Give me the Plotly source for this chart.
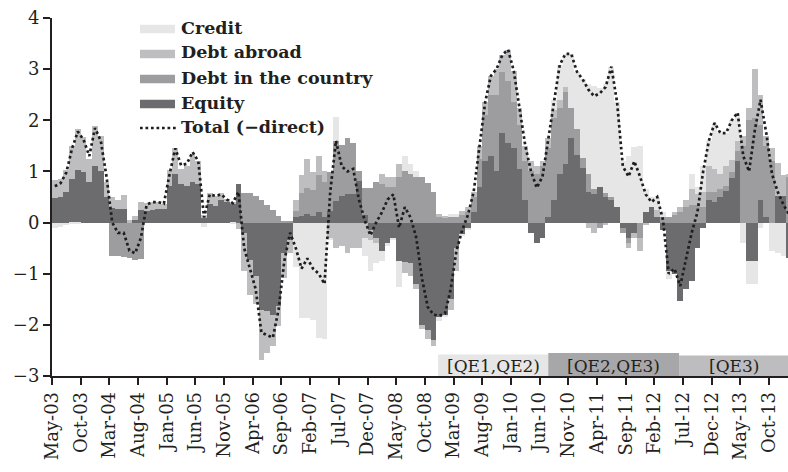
import plotly.graph_objects as go

# Monthly capital flows, May-03 .. Jan-14 (index 0 = May-03)
equity = [
    0.49, 0.50, 0.60, 0.86, 1.03, 0.98, 0.80, 1.11, 1.01, 0.50,
    0.28, 0.27, 0.27, 0.00, 0.05, 0.25, 0.22, 0.25, 0.27, 0.27,
    0.72, 0.95, 0.75, 0.72, 0.80, 0.75, 0.08, 0.37, 0.32, 0.45,
    0.40, 0.37, 0.75, -0.20, -0.73, -1.05, -1.70, -1.73, -1.80, -1.64,
    -0.60, -0.34, 0.10, 0.13, 0.16, 0.13, 0.20, 0.10, 0.23, 0.42,
    0.52, 0.55, 0.55, 0.81, 0.15, -0.15, -0.30, -0.55, -0.40, -0.30,
    -0.75, -0.78, -0.80, -1.20, -2.00, -2.10, -2.30, -1.85, -1.80, -1.50,
    -0.50, -0.23, -0.10, 0.20, 0.70, 1.20, 1.30, 1.00, 1.75, 1.56,
    1.46, 1.05, 0.45, -0.20, -0.40, -0.30, 0.10, 0.45, 0.95, 1.15,
    1.65, 1.33, 1.07, 0.60, 0.55, 0.70, 0.50, 0.45, 0.30, -0.10,
    -0.30, -0.20, 0.00, 0.20, 0.30, 0.10, -0.15, -0.95, -1.00, -1.53,
    -1.30, -1.14, -0.49, -0.10, 0.45, 0.40, 0.50, 0.62, 0.88, 1.20,
    0.00, -0.75, -0.75, 0.45, 0.10, 0.00, 0.52, 0.52, -0.70,
]
debt_country = [
    0, 0, 0, 0, 0, 0, 0, 0, 0, 0,
    -0.65, -0.66, -0.68, -0.70, -0.74, -0.72, 0, 0, 0, 0,
    0, 0, 0, 0, 0, 0, 0, 0, 0, 0,
    0, 0, 0, 0.58, 0.58, 0.52, 0.45, 0.35, 0.25, 0.12,
    0.04, 0.02, 0.13, 0.45, 0.52, 0.50, 0.74, 0.70, 0.75, 1.17,
    1.00, 1.10, 1.00, 0.20, 0.53, 0.68, 0.80, 0.75, 0.70, 0.70,
    0.90, 1.00, 0.95, 0.90, 0.90, 0.78, 0.59, 0.10, 0.08, 0.10,
    0.10, 0.15, 0.20, 0.30, 0.55, 0.90, 1.20, 1.50, 1.20, 1.20,
    0.90, 0.85, 0.75, 1.00, 0.95, 1.10, 1.35, 1.60, 1.30, 1.40,
    0.60, 0.50, 0.20, 0.35, 0.10, -0.10, 0.08, 0.05, 0.00, -0.10,
    -0.10, 0.00, -0.30, 0.00, 0.00, 0.00, 0.10, 0.10, 0.15, 0.20,
    0.30, 0.35, 0.35, 0.30, 0.15, 0.20, 0.15, 0.10, 0.10, 0.20,
    1.50, 2.00, 2.05, 1.45, 1.40, 1.20, 0.00, 0.00, 0.90,
]
debt_abroad = [
    0.34, 0.36, 0.43, 0.64, 0.79, 0.70, 0.45, 0.77, 0.69, 0.30,
    0.22, 0.17, 0.26, 0.05, 0.08, 0.15, 0.17, 0.15, 0.13, 0.10,
    0.30, 0.50, 0.30, 0.38, 0.55, 0.45, 0.06, 0.20, 0.20, 0.12,
    0.07, 0.04, -0.12, -0.75, -0.68, -0.55, -0.98, -0.82, -0.62, -0.39,
    -0.48, -0.26, 0.22, 0.35, 0.56, 0.35, 0.36, 0.20, -0.30, -0.50,
    -0.45, -0.60, -0.50, -0.50, -0.30, -0.20, -0.10, 0.20, 0.20, 0.20,
    0.25, -0.20, -0.25, -0.10, -0.08, -0.18, -0.12, 0.06, 0.05, -0.20,
    -0.45, 0.08, 0.10, 0.10, 0.25, 0.25, 0.37, 0.50, 0.33, 0.62,
    0.60, 0.35, 0.30, 0.20, 0.15, 0.10, 0.20, 0.15, 0.15, 0.10,
    0.00, 0.00, 0.00, -0.10, -0.20, 0.00, -0.05, 0.00, 0.00, 0.00,
    -0.10, -0.10, -0.25, -0.05, 0.00, 0.15, 0.00, 0.00, 0.05, 0.10,
    0.15, 0.30, 0.20, 0.30, 0.50, 0.45, 0.30, 0.38, 0.25, 0.20,
    0.20, 0.25, 0.95, 0.60, 0.20, 0.26, 0.65, 0.42, 0.05,
]
credit = [
    -0.10, -0.08, -0.05, -0.03, -0.01, 0, 0, 0, 0, 0,
    0, 0, 0, 0, 0, 0, 0, 0, 0, 0,
    0, 0, 0, 0, 0, 0, -0.08, 0, 0, 0,
    0, -0.02, 0, 0, 0, 0, 0, 0, 0, 0,
    0, 0, -0.86, -1.86, -1.86, -1.90, -2.25, -2.27, -0.05, 0.47,
    0, 0, 0, 0, -0.35, -0.60, -0.40, -0.20, -0.05, -0.05,
    -0.50, 0.30, 0.20, 0.10, 0, 0, 0, -0.07, -0.05, 0.06,
    0.06, -0.03, -0.05, 0, 0, 0, 0, 0, 0, 0,
    0, 0, 0, 0, 0, 0, 0, 0.20, 0.68, 0.65,
    1.05, 1.12, 1.53, 1.75, 2.02, 1.93, 2.12, 2.55, 2.05, 1.20,
    1.30, 1.48, 1.50, 0.45, 0.20, 0.25, 0.10, -0.15, 0, 0,
    0, 0.30, 0.15, 0.50, 0.50, 0.90, 0.80, 0.65, 0.77, 0.55,
    -0.40, -0.45, -0.45, -0.10, 0, -0.55, -0.60, -0.65, 0,
]
total_ex_direct = [
    0.71, 0.77, 0.98, 1.45, 1.78, 1.62, 1.30, 1.85, 1.60, 0.90,
    0.00, -0.20, -0.20, -0.55, -0.60, -0.30, 0.35, 0.40, 0.40, 0.37,
    0.95, 1.45, 1.12, 1.15, 1.38, 1.20, 0.10, 0.55, 0.52, 0.55,
    0.45, 0.38, 0.60, -0.50, -0.90, -1.30, -2.15, -2.20, -2.25, -1.70,
    -0.75, -0.20, -0.50, -0.90, -0.70, -0.90, -1.00, -1.20, 0.60, 1.60,
    1.10, 1.00, 1.05, 0.45, 0.05, -0.25, 0.00, 0.20, 0.45, 0.55,
    -0.10, 0.30, 0.10, -0.30, -1.10, -1.65, -1.80, -1.82, -1.78, -1.30,
    -0.55, -0.15, 0.15, 0.60, 1.50, 2.35, 2.87, 3.00, 3.28, 3.38,
    2.96, 2.25, 1.50, 1.00, 0.68, 0.90, 1.65, 2.40, 3.08, 3.30,
    3.30, 2.95, 2.80, 2.60, 2.47, 2.53, 2.65, 3.05, 2.35, 1.10,
    0.90, 1.20, 0.90, 0.55, 0.40, 0.50, 0.05, -1.00, -0.90, -1.24,
    -0.70, -0.20, 0.20, 1.00, 1.60, 1.95, 1.75, 1.75, 2.00, 2.15,
    1.30, 1.00, 1.80, 2.40, 1.75, 0.95, 0.60, 0.35, 0.15,
]

# Axis ticks every five months, starting May-03
tick_labels = [
    "May-03", "Oct-03", "Mar-04", "Aug-04", "Jan-05", "Jun-05", "Nov-05",
    "Apr-06", "Sep-06", "Feb-07", "Jul-07", "Dec-07", "May-08", "Oct-08",
    "Mar-09", "Aug-09", "Jan-10", "Jun-10", "Nov-10", "Apr-11", "Sep-11",
    "Feb-12", "Jul-12", "Dec-12", "May-13", "Oct-13",
]
tick_step = 5

# QE periods as (label, start month index, end month index, fill, band top)
qe_periods = [
    ("[QE1,QE2)", 67.3, 86.5, "#e6e6e7", -2.58),
    ("[QE2,QE3)", 86.5, 109.3, "#a7a7a9", -2.55),
    ("[QE3)", 109.3, 128.3, "#bdbdbf", -2.6),
]

series = [
    ("Credit", credit, "#e6e6e7"),
    ("Debt abroad", debt_abroad, "#bebec0"),
    ("Debt in the country", debt_country, "#9d9d9f"),
    ("Equity", equity, "#6c6c6f"),
]

FONT = "DejaVu Serif"
INK = "#231f20"
DOTS = dict(color="#1e1e1e", width=2.7, dash="2.7px,2.8px")
n = len(total_ex_direct)
xpos = [i + 0.5 for i in range(n)]

fig = go.Figure()
# stacking order: equity nearest zero, credit outermost
for name, vals, col in reversed(series):
    fig.add_trace(go.Bar(
        x=xpos, y=vals, name=name, width=1.0,
        marker=dict(color=col, line=dict(width=0)),
        showlegend=False,
    ))
fig.add_trace(go.Scatter(
    x=xpos, y=total_ex_direct, mode="lines", name="Total (−direct)",
    line=DOTS, showlegend=False,
))

# plot area in pixels
L, T, W, H = 52, 18, 736, 358
def px(x):
    return (x - L) / W
def py(y):
    return (T + H - y) / H

shapes = []
annotations = []
for label, x0, x1, col, top in qe_periods:
    shapes.append(dict(type="rect", xref="x", yref="y", x0=x0, x1=x1, y0=-3, y1=top,
                       fillcolor=col, line=dict(width=0), layer="above"))
    annotations.append(dict(x=(x0 + x1) / 2, y=-2.8, xref="x", yref="y", text=label,
                            showarrow=False, font=dict(family=FONT, size=17, color=INK)))

# legend block
legend_rows = [(name, col, 29 + 25 * k) for k, (name, _, col) in enumerate(series)]
for name, col, yc in legend_rows:
    shapes.append(dict(type="rect", xref="paper", yref="paper",
                       x0=px(140), x1=px(175), y0=py(yc + 4.2), y1=py(yc - 4.2),
                       fillcolor=col, line=dict(width=0)))
    annotations.append(dict(x=px(179), y=py(yc - 1.5), xref="paper", yref="paper",
                            text="<b>%s</b>" % name, showarrow=False, xanchor="left",
                            yanchor="middle", font=dict(family=FONT, size=17.5, color=INK)))
shapes.append(dict(type="line", xref="paper", yref="paper", x0=px(140), x1=px(176),
                   y0=py(128), y1=py(128), line=DOTS))
annotations.append(dict(x=px(179), y=py(126.5), xref="paper", yref="paper",
                        text="<b>Total (−direct)</b>", showarrow=False, xanchor="left",
                        yanchor="middle", font=dict(family=FONT, size=17.5, color=INK)))

fig.update_layout(
    width=788, height=472,
    margin=dict(l=L, r=788 - L - W, t=T, b=472 - T - H),
    barmode="relative", bargap=0,
    plot_bgcolor="white", paper_bgcolor="white",
    font=dict(family=FONT, size=16, color=INK),
    shapes=shapes, annotations=annotations,
    showlegend=False,
)
fig.update_xaxes(
    range=[0, W / 5.737], tickmode="array",
    tickvals=[k * tick_step for k in range(len(tick_labels))], ticktext=tick_labels,
    tickangle=-90, ticks="outside", ticklen=7, tickwidth=1.5, tickcolor=INK,
    showline=True, linecolor=INK, linewidth=1.5, showgrid=False, zeroline=False,
    tickfont=dict(family=FONT, size=18, color=INK),
)
fig.update_yaxes(
    range=[-3, 4], tickmode="array", tickvals=list(range(-3, 5)),
    ticks="outside", ticklen=7, tickwidth=1.5, tickcolor=INK,
    showline=True, linecolor=INK, linewidth=2, showgrid=False, zeroline=False,
    tickfont=dict(family=FONT, size=18, color=INK),
)

fig.write_html("out.html")
